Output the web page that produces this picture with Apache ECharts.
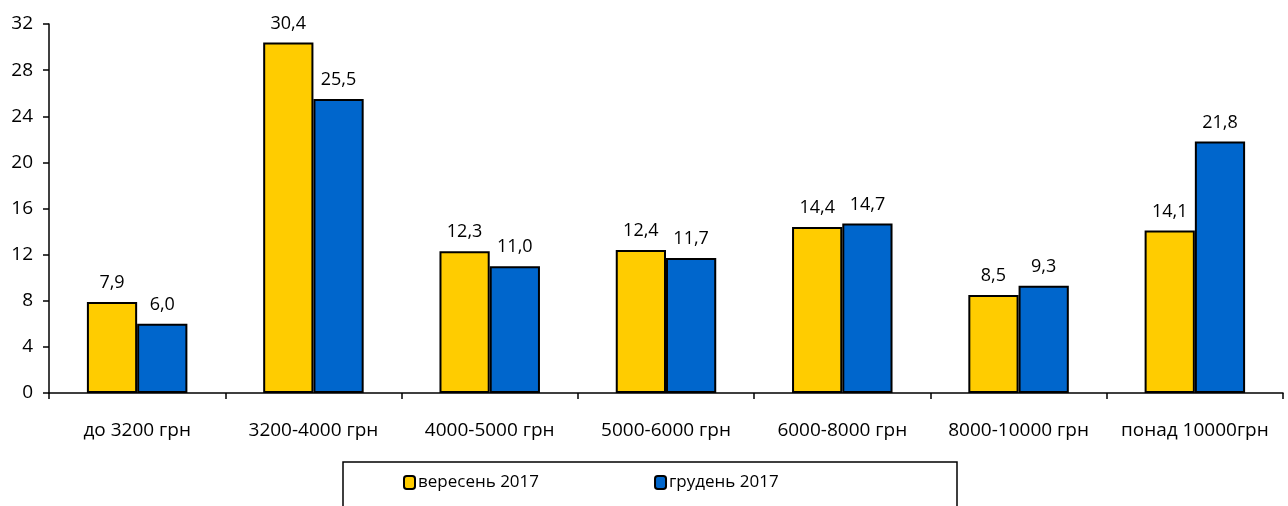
<!DOCTYPE html>
<html><head><meta charset="utf-8">
<script src="https://cdn.jsdelivr.net/npm/echarts@6/dist/echarts.min.js"></script>
<style>html,body{margin:0;padding:0;background:#fff}#c{width:1288px;height:506px}</style>
</head><body><div id="c"></div>
<script>
const categories = ['до 3200 грн','3200-4000 грн','4000-5000 грн','5000-6000 грн','6000-8000 грн','8000-10000 грн','понад 10000грн'];
const sep2017 = [7.9, 30.4, 12.3, 12.4, 14.4, 8.5, 14.1];
const dec2017 = [6.0, 25.5, 11.0, 11.7, 14.7, 9.3, 21.8];
const seriesNames = ['вересень 2017','грудень 2017'];
const yTicks = {min:0, max:32, interval:4};

const FONT = '"Open Sans", "Noto Sans", sans-serif';
const chart = echarts.init(document.getElementById('c'));
const lab = {show:true, position:'top', distance:10, color:'#000', fontSize:18, fontFamily:FONT,
  formatter: p => p.value.toFixed(1).replace('.', ',')};
chart.setOption({
  animation:false,
  textStyle:{fontFamily:FONT},
  grid:{left:49, right:5, top:24, bottom:113},
  xAxis:{type:'category', data:categories,
    axisLine:{lineStyle:{color:'#000', width:1.5}},
    axisTick:{show:true, length:6, lineStyle:{color:'#000', width:1.5}, inside:false},
    axisLabel:{color:'#000', fontSize:19, fontFamily:FONT, margin:28, interval:0}},
  yAxis:{type:'value', min:yTicks.min, max:yTicks.max, interval:yTicks.interval,
    axisLine:{show:true, lineStyle:{color:'#000', width:1.5}},
    axisTick:{show:true, length:6, lineStyle:{color:'#000', width:1.5}},
    splitLine:{show:false},
    axisLabel:{color:'#000', fontSize:19, fontFamily:FONT, margin:16}},
  legend:{show:true, top:469, left:398, itemGap:115, itemWidth:11, itemHeight:13,
    textStyle:{color:'#000', fontSize:17, fontFamily:FONT, padding:[0,0,0,-2]},
    data:seriesNames},
  graphic:[{type:'rect', shape:{x:343, y:462, width:614, height:60},
    style:{fill:'none', stroke:'#000', lineWidth:1.5}, z:-1}],
  series:[
    {name:seriesNames[0], type:'bar', data:sep2017, barWidth:'28.5%', barGap:'0%', barCategoryGap:'43%',
      itemStyle:{color:'#FFCC00', borderColor:'#000', borderWidth:2}, label:lab},
    {name:seriesNames[1], type:'bar', data:dec2017, barWidth:'28.5%', barGap:'0%',
      itemStyle:{color:'#0066CC', borderColor:'#000', borderWidth:2}, label:lab}
  ]
});
</script></body></html>
